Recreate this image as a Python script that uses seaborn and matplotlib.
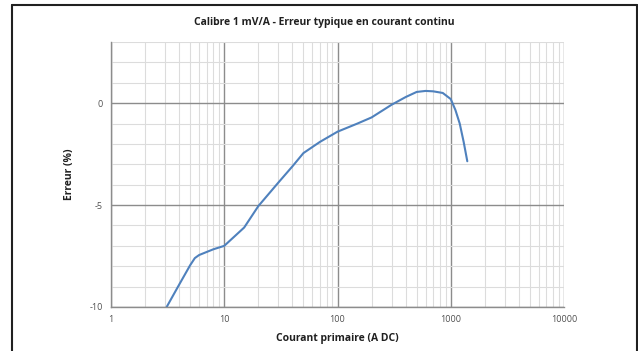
import numpy as np
import pandas as pd
import matplotlib
matplotlib.use("Agg")
import matplotlib.pyplot as plt
from matplotlib.lines import Line2D
from matplotlib.ticker import LogLocator, MultipleLocator, FixedLocator, NullFormatter
import seaborn as sns

courant = [3.1, 4, 5, 5.5, 6, 7, 8, 10, 15, 20, 30, 40, 50, 70, 100, 150, 200, 300, 400,
           500, 600, 700, 850, 1000, 1100, 1200, 1300, 1400]
erreur = [-10, -8.9, -7.95, -7.6, -7.45, -7.3, -7.17, -7.0, -6.1, -5.05, -3.9, -3.1, -2.45, -1.9,
          -1.4, -1.0, -0.7, -0.08, 0.3, 0.55, 0.6, 0.58, 0.5, 0.2, -0.34, -1.0, -1.9, -2.85]
x_ticks = [1, 10, 100, 1000, 10000]
x_labels = ["1", "10", "100", "1000", "10000"]
y_ticks = [-10, -5, 0]
y_labels = ["-10", "-5", "0"]

df = pd.DataFrame({"Courant": courant, "Erreur": erreur})

sns.set_style("white")
plt.rcParams['font.family'] = ['Open Sans', 'DejaVu Sans']

W, H = 638, 351
fig = plt.figure(figsize=(W / 100, H / 100), dpi=100)
ax = fig.add_axes([111 / W, 1 - 307 / H, (564 - 111) / W, (307 - 42) / H])

ax.set_xscale("log")
ax.set_xlim(1, 10000)
ax.set_ylim(-10, 3)

ax.xaxis.set_major_locator(FixedLocator(x_ticks))
ax.set_xticklabels(x_labels)
ax.xaxis.set_minor_locator(LogLocator(base=10, subs=np.arange(2, 10), numticks=20))
ax.xaxis.set_minor_formatter(NullFormatter())
ax.yaxis.set_major_locator(FixedLocator(y_ticks))
ax.set_yticklabels(y_labels)
ax.yaxis.set_minor_locator(MultipleLocator(1))

ax.grid(which="minor", color="#dcdcdc", linewidth=0.8)
ax.grid(which="major", color="#8c8c8c", linewidth=1.0)
ax.set_axisbelow(True)

sns.lineplot(data=df, x="Courant", y="Erreur", ax=ax, color="#4f81bd", linewidth=1.5)

for s in ["top", "right"]:
    ax.spines[s].set_visible(False)
for s in ["left", "bottom"]:
    ax.spines[s].set_color("#8c8c8c")
    ax.spines[s].set_linewidth(1.0)

ax.tick_params(axis="both", which="major", length=3, width=0.8, color="#8c8c8c",
               labelsize=6.5, labelcolor="#505050", pad=3)
ax.tick_params(axis="both", which="minor", length=0)

ax.set_xlabel("Courant primaire (A DC)", fontsize=7.5, fontweight="bold", color="#202020", labelpad=6)
ax.set_ylabel("Erreur (%)", fontsize=7.5, fontweight="bold", color="#202020", labelpad=10)

fig.text(324 / W, 1 - 22 / H, "Calibre 1 mV/A - Erreur typique en courant continu",
         ha="center", va="center", fontsize=7.5, fontweight="bold", color="#202020")

# outer chart frame
fig.add_artist(Line2D([12 / W, 12 / W], [0, 1 - 5 / H], transform=fig.transFigure, color="#202020", linewidth=1.5))
fig.add_artist(Line2D([12 / W, 637 / W], [1 - 5 / H, 1 - 5 / H], transform=fig.transFigure, color="#202020", linewidth=1.5))
fig.add_artist(Line2D([637 / W, 637 / W], [0, 1 - 5 / H], transform=fig.transFigure, color="#202020", linewidth=1.5))

fig.savefig("out.png", dpi=100)
